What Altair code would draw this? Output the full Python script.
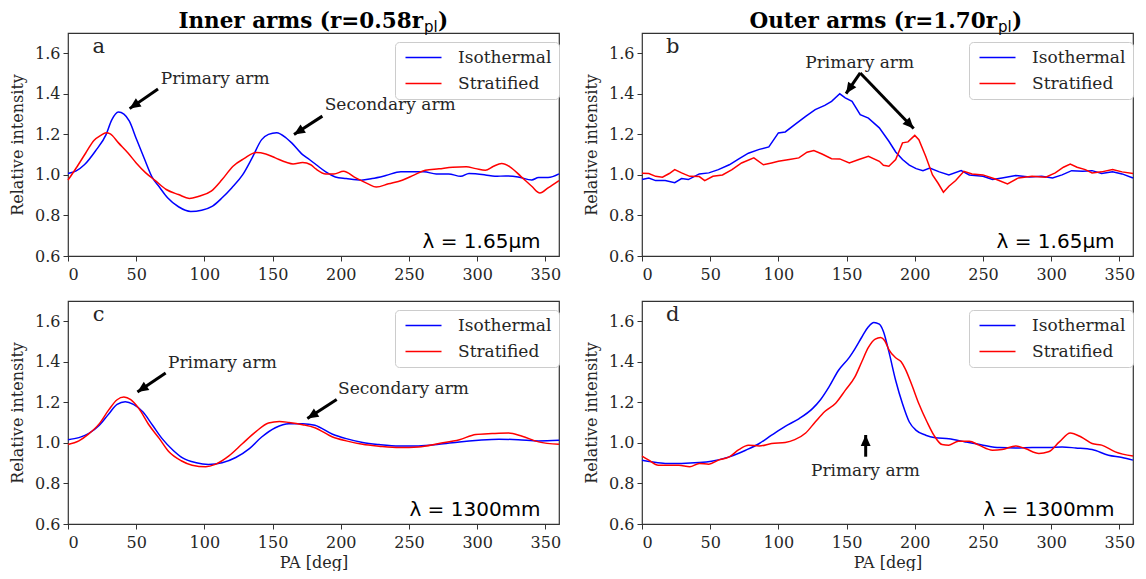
import math
import altair as alt
import pandas as pd

SERIES = ["Isothermal", "Stratified"]
COLORS = ["#0000ff", "#ff0000"]
XTICKS = [0, 50, 100, 150, 200, 250, 300, 350]
YTICKS = [0.6, 0.8, 1.0, 1.2, 1.4, 1.6]

# ---- panel a: inner arms, 1.65 micron ----
A_ISO_X = [0, 6, 12, 20, 28, 32, 37, 41, 45, 50, 56, 62, 67, 73, 81, 90, 98, 106, 113, 120,
           128, 135, 142, 147, 153, 160, 164, 172, 177, 182, 189, 196, 204, 215, 223, 233, 244,
           252, 261, 270, 279, 288, 294, 306, 313, 321, 330, 340, 345, 352, 360]
A_ISO_Y = [1.007, 1.02, 1.05, 1.117, 1.2, 1.27, 1.31, 1.30, 1.265, 1.18, 1.08, 0.985, 0.94,
           0.887, 0.843, 0.82, 0.826, 0.846, 0.887, 0.936, 1.0, 1.084, 1.174, 1.2, 1.208, 1.182,
           1.158, 1.1, 1.076, 1.05, 1.015, 0.99, 0.982, 0.974, 0.982, 0.997, 1.016, 1.015, 1.015,
           1.005, 1.005, 0.993, 1.007, 1.0, 0.993, 0.995, 0.99, 0.975, 0.987, 0.987, 1.005]
A_STR_X = [0, 6, 13, 19, 24, 28, 31, 37, 44, 50, 57, 64, 72, 81, 89, 96, 105, 113, 121, 129,
           138, 145, 152, 160, 165, 172, 178, 182, 189, 195, 202, 211, 220, 226, 235, 245, 254,
           262, 272, 282, 292, 299, 306, 312, 318, 324, 332, 340, 346, 352, 360]
A_STR_Y = [0.974, 1.034, 1.108, 1.17, 1.195, 1.208, 1.202, 1.158, 1.108, 1.059, 1.01, 0.972,
           0.928, 0.903, 0.884, 0.895, 0.92, 0.977, 1.043, 1.08, 1.11, 1.103, 1.084, 1.062,
           1.054, 1.061, 1.05, 1.028, 1.005, 1.005, 1.018, 0.985, 0.956, 0.94, 0.956, 0.974,
           1.0, 1.023, 1.03, 1.038, 1.04, 1.031, 1.023, 1.043, 1.056, 1.04, 0.993, 0.944,
           0.911, 0.936, 0.972]

# ---- panel b: outer arms, 1.65 micron ----
B_ISO_X = [0, 5, 10, 17, 24, 29, 34, 42, 49, 56, 64, 71, 78, 86, 93, 100, 105, 112, 120, 127,
           134, 139, 145, 149, 154, 160, 166, 174, 181, 186, 191, 196, 201, 206, 211, 218, 225,
           234, 240, 250, 257, 264, 274, 284, 293, 301, 308, 315, 323, 330, 337, 345, 352, 360]
B_ISO_Y = [0.977, 0.985, 0.972, 0.972, 0.962, 0.982, 0.977, 1.005, 1.01, 1.026, 1.05, 1.079,
           1.107, 1.126, 1.138, 1.207, 1.212, 1.248, 1.289, 1.322, 1.343, 1.363, 1.40, 1.38,
           1.363, 1.297, 1.28, 1.232, 1.166, 1.113, 1.076, 1.048, 1.031, 1.021, 1.034, 1.015,
           1.0, 1.021, 1.0, 0.993, 0.977, 0.985, 0.997, 0.99, 0.993, 0.985, 1.0, 1.021, 1.018,
           1.021, 1.007, 1.015, 1.005, 0.985]
B_STR_X = [0, 5, 10, 15, 20, 24, 29, 35, 42, 46, 52, 59, 66, 73, 82, 89, 95, 100, 108, 115,
           121, 126, 132, 139, 145, 152, 159, 166, 174, 177, 181, 186, 191, 195, 200, 203, 208,
           213, 217, 221, 225, 230, 236, 242, 250, 259, 268, 276, 286, 296, 303, 309, 314, 319,
           325, 330, 337, 345, 352, 360]
B_STR_Y = [1.008, 1.007, 0.993, 0.989, 1.007, 1.026, 1.01, 0.993, 0.992, 0.972, 0.993, 1.0,
           1.026, 1.059, 1.084, 1.05, 1.059, 1.067, 1.076, 1.084, 1.112, 1.12, 1.103, 1.08,
           1.079, 1.059, 1.076, 1.092, 1.067, 1.048, 1.043, 1.076, 1.158, 1.163, 1.195, 1.174,
           1.092, 1.0, 0.96, 0.915, 0.944, 0.972, 1.018, 1.005, 1.0, 0.98, 0.956, 0.985, 0.993,
           0.989, 1.01, 1.038, 1.054, 1.038, 1.026, 1.01, 1.015, 1.026, 1.015, 1.007]

# ---- panel c: inner arms, 1300 mm ----
C_ISO_X = [0, 8, 15, 23, 30, 36, 42, 48, 55, 62, 69, 77, 84, 94, 103, 113, 123, 133, 142, 152,
           162, 172, 181, 194, 204, 216, 228, 243, 257, 272, 287, 301, 316, 330, 345, 360]
C_ISO_Y = [1.016, 1.026, 1.046, 1.087, 1.144, 1.19, 1.203, 1.19, 1.152, 1.087, 1.021, 0.964,
           0.926, 0.902, 0.894, 0.902, 0.928, 0.972, 1.029, 1.075, 1.095, 1.095, 1.087, 1.043,
           1.021, 1.002, 0.992, 0.985, 0.985, 0.993, 1.005, 1.013, 1.018, 1.016, 1.01, 1.013]
C_STR_X = [0, 8, 15, 23, 30, 36, 41, 46, 52, 59, 67, 74, 83, 91, 101, 108, 118, 128, 138, 147,
           155, 162, 172, 181, 194, 204, 216, 228, 243, 257, 272, 287, 299, 311, 323, 333, 345, 360]
C_STR_Y = [0.992, 1.01, 1.043, 1.095, 1.164, 1.213, 1.226, 1.213, 1.169, 1.092, 1.021, 0.956,
           0.912, 0.89, 0.882, 0.894, 0.936, 0.997, 1.057, 1.098, 1.106, 1.101, 1.09, 1.075,
           1.029, 1.01, 0.993, 0.984, 0.977, 0.98, 0.997, 1.016, 1.041, 1.046, 1.049, 1.033,
           1.005, 0.993]

# ---- panel d: outer arms, 1300 mm ----
D_ISO_X = [0, 7, 17, 29, 42, 51, 64, 76, 86, 95, 105, 115, 125, 131, 137, 144, 152, 156, 161,
           166, 170, 174, 177, 181, 186, 191, 196, 201, 208, 215, 225, 237, 250, 262, 274, 286,
           298, 308, 318, 330, 342, 352, 360]
D_ISO_Y = [0.915, 0.907, 0.899, 0.899, 0.903, 0.91, 0.931, 0.964, 0.997, 1.038, 1.082, 1.119,
           1.169, 1.214, 1.275, 1.357, 1.422, 1.463, 1.52, 1.573, 1.594, 1.586, 1.55, 1.45,
           1.308, 1.193, 1.103, 1.062, 1.038, 1.026, 1.021, 1.005, 0.989, 0.977, 0.975, 0.977,
           0.977, 0.98, 0.975, 0.967, 0.939, 0.928, 0.915]
D_STR_X = [0, 5, 12, 20, 27, 35, 42, 49, 56, 64, 71, 78, 86, 95, 105, 112, 120, 127, 134, 142,
           149, 156, 161, 166, 171, 175, 178, 181, 186, 190, 193, 198, 203, 209, 214, 220, 225,
           232, 240, 247, 257, 264, 274, 281, 291, 298, 306, 314, 322, 330, 337, 347, 360]
D_STR_Y = [0.935, 0.915, 0.89, 0.89, 0.89, 0.882, 0.899, 0.895, 0.915, 0.931, 0.967, 0.989,
           0.985, 0.997, 1.002, 1.016, 1.049, 1.103, 1.155, 1.196, 1.259, 1.324, 1.398, 1.471,
           1.512, 1.52, 1.504, 1.46, 1.42, 1.40, 1.365, 1.283, 1.193, 1.103, 1.038, 0.992, 0.989,
           1.008, 1.008, 0.989, 0.964, 0.967, 0.985, 0.972, 0.948, 0.956, 1.005, 1.049, 1.029,
           0.997, 0.989, 0.956, 0.935]

# ---- annotations (data coordinates) ----
LETTERS = ["a", "b", "c", "d"]
LAMBDAS = ["λ = 1.65μm", "λ = 1.65μm", "λ = 1300mm", "λ = 1300mm"]
NOTE_LABELS = [["Primary arm", "Secondary arm"], ["Primary arm"],
               ["Primary arm", "Secondary arm"], ["Primary arm"]]
NOTE_X = [[68, 188.2], [119.7], [73.3, 198], [123.9]]
NOTE_Y = [[1.449, 1.322], [1.528], [1.369, 1.240], [0.838]]
ARROW_TAIL_X = [[66.0, 186.5], [160.0, 160.0], [71.6, 197.0], [164.0]]
ARROW_TAIL_Y = [[1.424, 1.290], [1.503, 1.503], [1.345, 1.214], [0.932]]
ARROW_HEAD_X = [[45.2, 165.7], [149.6, 199.2], [50.9, 175.5], [164.0]]
ARROW_HEAD_Y = [[1.327, 1.199], [1.401, 1.229], [1.251, 1.120], [1.039]]
TITLES = [("Inner arms (r=0.58r", "pl", ")"), ("Outer arms (r=1.70r", "pl", ")")]

PLOT_W, PLOT_H = 491, 223
XDOM, YDOM = [0, 360], [0.6, 1.7]
SERIF = "DejaVu Serif"
TXT = "#262626"
ARROW_SHAPE = "M0,0L0.45,1L-0.45,1Z"
LEGEND_LINE = "M-1,0L6.2,0"


def X(field, show_title):
    return alt.X(f"{field}:Q", scale=alt.Scale(domain=XDOM, nice=False, zero=False),
                 axis=alt.Axis(values=XTICKS, title="PA [deg]" if show_title else None,
                               labelPadding=5, titlePadding=4))


def Y(field):
    return alt.Y(f"{field}:Q", scale=alt.Scale(domain=YDOM, nice=False, zero=False),
                 axis=alt.Axis(values=YTICKS, format=".1f", title="Relative intensity",
                               labelPadding=3, titlePadding=9))


def panel(i, iso_x, iso_y, str_x, str_y, interp, bottom):
    rows = [{"pa": x, "val": y, "series": SERIES[0]} for x, y in zip(iso_x, iso_y)]
    rows += [{"pa": x, "val": y, "series": SERIES[1]} for x, y in zip(str_x, str_y)]
    df = pd.DataFrame(rows)
    lines = alt.Chart(df).mark_line(strokeWidth=1.5, interpolate=interp).encode(
        x=X("pa", bottom), y=Y("val"),
        color=alt.Color("series:N", scale=alt.Scale(domain=SERIES, range=COLORS),
                        legend=alt.Legend(title=None)),
    )
    kx = PLOT_W / (XDOM[1] - XDOM[0])
    ky = PLOT_H / (YDOM[1] - YDOM[0])
    arr = []
    for tx, ty, hx, hy in zip(ARROW_TAIL_X[i], ARROW_TAIL_Y[i], ARROW_HEAD_X[i], ARROW_HEAD_Y[i]):
        dx = (hx - tx) * kx
        dy = -(hy - ty) * ky
        ang = math.degrees(math.atan2(dx, -dy)) % 360
        arr.append({"tx": tx, "ty": ty, "hx": hx, "hy": hy, "ang": ang})
    adf = pd.DataFrame(arr)
    shafts = alt.Chart(adf).mark_rule(strokeWidth=3, color="black").encode(
        x=X("tx", bottom), y=Y("ty"), x2="hx:Q", y2="hy:Q")
    heads = alt.Chart(adf).mark_point(shape=ARROW_SHAPE, filled=True, color="black", opacity=1,
                                      size=484, strokeWidth=0).encode(
        x=X("hx", bottom), y=Y("hy"), angle=alt.Angle("ang:Q", scale=None))
    ndf = pd.DataFrame({"nx": NOTE_X[i], "ny": NOTE_Y[i], "label": NOTE_LABELS[i]})
    notes = alt.Chart(ndf).mark_text(align="left", baseline="alphabetic", font=SERIF,
                                     fontSize=17, color=TXT).encode(
        x=X("nx", bottom), y=Y("ny"), text="label:N")
    ldf = pd.DataFrame({"lx": [22.5], "ly": [1.6], "letter": [LETTERS[i]]})
    letter = alt.Chart(ldf).mark_text(align="center", baseline="alphabetic", font=SERIF,
                                      fontSize=21, color=TXT).encode(
        x=X("lx", bottom), y=Y("ly"), text="letter:N")
    wdf = pd.DataFrame({"wx": [346.5], "wy": [0.64], "lam": [LAMBDAS[i]]})
    lam = alt.Chart(wdf).mark_text(align="right", baseline="alphabetic", font="DejaVu Sans",
                                   fontSize=20, color="black").encode(
        x=X("wx", bottom), y=Y("wy"), text="lam:N")
    layers = [lines, shafts, heads, notes, letter, lam]
    if not bottom:
        main, sub, close = TITLES[i]
        xr = 355
        t1 = alt.Chart(pd.DataFrame({"t": [main]})).mark_text(
            align="right", baseline="alphabetic", font=SERIF, fontSize=21.5, fontWeight="bold",
            color="black").encode(text="t:N", x=alt.value(xr), y=alt.value(-5))
        t2 = alt.Chart(pd.DataFrame({"t": [sub]})).mark_text(
            align="left", baseline="alphabetic", font="DejaVu Sans", fontSize=15,
            color="black").encode(text="t:N", x=alt.value(xr + 1), y=alt.value(-1.5))
        t3 = alt.Chart(pd.DataFrame({"t": [close]})).mark_text(
            align="left", baseline="alphabetic", font=SERIF, fontSize=21.5, fontWeight="bold",
            color="black").encode(text="t:N", x=alt.value(xr + 15), y=alt.value(-5))
        layers += [t1, t2, t3]
    return alt.layer(*layers).properties(width=PLOT_W, height=PLOT_H)


pa = panel(0, A_ISO_X, A_ISO_Y, A_STR_X, A_STR_Y, "monotone", False)
pb = panel(1, B_ISO_X, B_ISO_Y, B_STR_X, B_STR_Y, "linear", False)
pc = panel(2, C_ISO_X, C_ISO_Y, C_STR_X, C_STR_Y, "monotone", True)
pdd = panel(3, D_ISO_X, D_ISO_Y, D_STR_X, D_STR_Y, "monotone", True)

chart = alt.concat(pa, pb, pc, pdd, columns=2, spacing={"row": 17, "column": 19}).resolve_legend(
    color="independent"
).properties(
    padding={"left": 0, "top": 2, "right": 0, "bottom": 0}, background="white"
).configure_view(
    stroke="#333333", strokeWidth=1.2
).configure_axis(
    grid=False, domain=False, ticks=True, tickSize=5, tickWidth=1, tickColor="#333333",
    labelFont=SERIF, labelFontSize=16, labelColor=TXT, titleFont=SERIF, titleFontSize=16,
    titleFontWeight="normal", titleColor=TXT
).configure_legend(
    orient="none", legendX=327, legendY=9, padding=7, labelFont=SERIF, labelFontSize=17,
    labelColor=TXT, symbolType=LEGEND_LINE, symbolSize=100, symbolStrokeWidth=1.5,
    strokeColor="#cccccc", fillColor="white", cornerRadius=4, rowPadding=8, labelOffset=39
)

chart.save("out.html", embed_options={"renderer": "svg", "actions": False})
